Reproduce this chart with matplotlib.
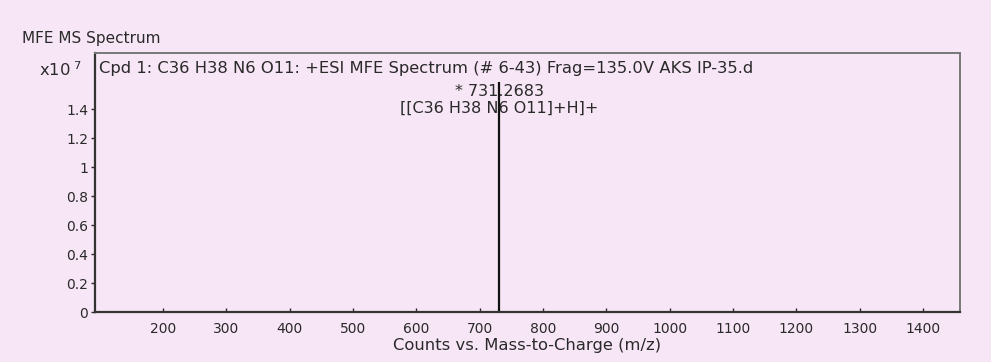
import matplotlib
matplotlib.use("Agg")
import matplotlib.pyplot as plt
from matplotlib.transforms import blended_transform_factory

plt.rcParams['font.family'] = ['DejaVu Sans']

# Spectrum data (m/z, counts)
peak_mz = [731.2683]
peak_counts = [1.59e7]
peak_mz_labels = ["* 731.2683"]
peak_ion_labels = ["[[C36 H38 N6 O11]+H]+"]

x_ticks = [200, 300, 400, 500, 600, 700, 800, 900, 1000, 1100, 1200, 1300, 1400]
y_ticks = [0, 0.2e7, 0.4e7, 0.6e7, 0.8e7, 1.0e7, 1.2e7, 1.4e7]
y_tick_labels = ["0", "0.2", "0.4", "0.6", "0.8", "1", "1.2", "1.4"]

window_title = "MFE MS Spectrum"
spectrum_title = "Cpd 1: C36 H38 N6 O11: +ESI MFE Spectrum (# 6-43) Frag=135.0V AKS IP-35.d"
x_label = "Counts vs. Mass-to-Charge (m/z)"

bg = "#f7e6f6"
ink = "#2a2a2a"
fs_tick = 10
fs_text = 11.8

fig = plt.figure(figsize=(9.91, 3.62), dpi=100, facecolor=bg)
ax = fig.add_axes([0.0959, 0.138, 0.8728, 0.7156], facecolor=bg)

ax.vlines(peak_mz, 0, peak_counts, color="#111111", linewidth=1.6)

ax.set_xlim(93, 1458)
ax.set_ylim(0, 1.79e7)
ax.set_xticks(x_ticks)
ax.set_xticklabels([str(v) for v in x_ticks])
ax.set_yticks(y_ticks)
ax.set_yticklabels(y_tick_labels)
ax.tick_params(axis='both', labelsize=fs_tick, colors=ink, length=3, width=1)
ax.tick_params(axis='x', direction='in', pad=7)
ax.tick_params(axis='y', direction='out', pad=2)

for side in ['left', 'bottom']:
    ax.spines[side].set_color("#333333")
    ax.spines[side].set_linewidth(1.6)
for side in ['top', 'right']:
    ax.spines[side].set_color("#777777")
    ax.spines[side].set_linewidth(1.4)

ax.set_xlabel(x_label, fontsize=fs_text, color=ink)
ax.xaxis.set_label_coords(0.5, -0.128)
ax.xaxis.label.set_va('center')

# exponent marker above the y axis
ax.text(-0.015, 0.935, r"x10$^{\ 7}$", transform=ax.transAxes, ha='right',
        va='center', fontsize=fs_text, color=ink)

ax.text(0.005, 0.942, spectrum_title, transform=ax.transAxes, ha='left',
        va='center', fontsize=fs_text, color=ink)

# peak annotations: m/z value and assigned ion
trans = blended_transform_factory(ax.transData, ax.transAxes)
for mz, mz_label, ion_label in zip(peak_mz, peak_mz_labels, peak_ion_labels):
    ax.text(mz, 0.851, mz_label, transform=trans, ha='center', va='center',
            fontsize=fs_text - 0.3, color=ink)
    ax.text(mz, 0.788, ion_label, transform=trans, ha='center', va='center',
            fontsize=fs_text - 0.3, color=ink)

fig.text(22 / 991, 1 - 38 / 362, window_title, ha='left', va='center',
         fontsize=11, color=ink)

fig.savefig("out.png", dpi=100, facecolor=bg)
